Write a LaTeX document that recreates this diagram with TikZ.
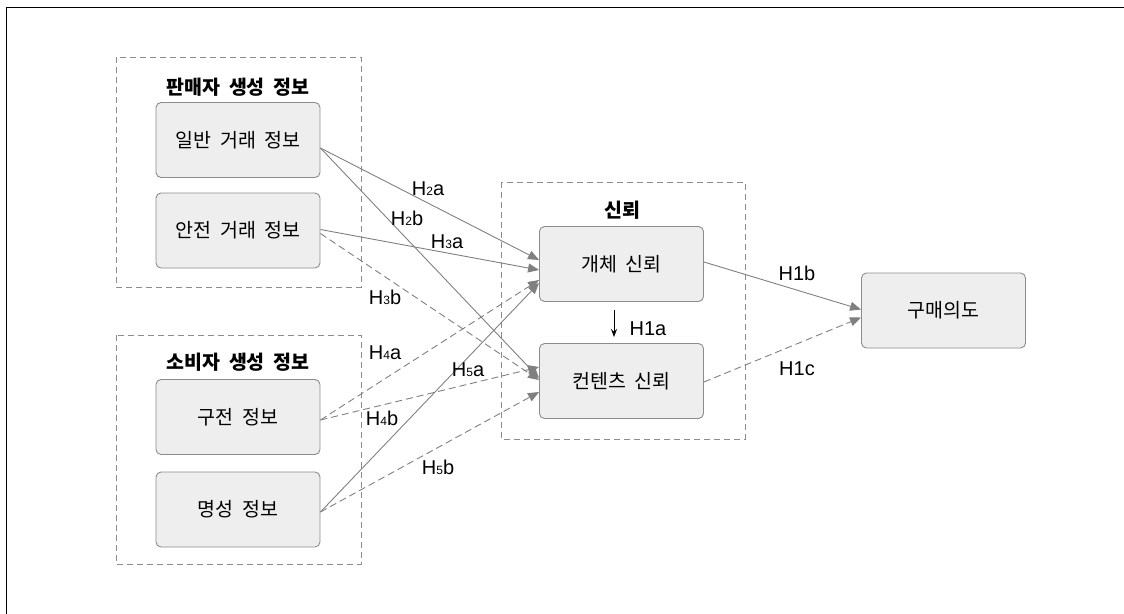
\documentclass[tikz,border=0pt]{standalone}
\usepackage{fontspec}
\setmainfont[WordSpace=2]{Noto Sans CJK KR}
\newfontfamily\latinfont{Liberation Sans}
\usetikzlibrary{calc,arrows.meta}
\definecolor{boxfill}{HTML}{EEEEEE}
\definecolor{boxline}{HTML}{8C8C8C}
\definecolor{arrowgray}{HTML}{808080}
\tikzset{
  itembox/.style={draw=boxline, fill=boxfill, rounded corners=5pt, line width=0.9pt,
    minimum width=164pt, minimum height=75pt, inner sep=0pt, font=\fontsize{19.5}{22}\selectfont},
  groupbox/.style={draw=boxline, dash pattern=on 6pt off 4pt, line width=0.9pt},
  grouptitle/.style={font=\fontsize{19.5}{22}\selectfont\bfseries, inner sep=0pt},
  hlabel/.style={font=\latinfont\fontsize{20}{23}\selectfont, inner sep=0pt},
  link/.style={draw=arrowgray, line width=0.9pt, -{Triangle[length=11pt,width=9pt]}},
  dlink/.style={link, dash pattern=on 7pt off 4pt},
}
\newcommand{\hsub}[2]{H{\fontsize{12}{13}\selectfont #1}#2}
\begin{document}
\begin{tikzpicture}[x=1pt,y=-1pt]
\useasboundingbox (0,0) rectangle (1124,613);
% outer frame
\draw[black, line width=1.6pt] (6.5,640) -- (6.5,7.5) -- (1140,7.5);

% group boxes
\draw[groupbox] (116,57) rectangle (361,287);
\draw[groupbox] (116,335) rectangle (361,564);
\draw[groupbox] (501,182) rectangle (745,439);

\node[grouptitle] (t1) at (238,87) {판매자 생성 정보};
\node[grouptitle] (t2) at (238,362) {소비자 생성 정보};
\node[grouptitle] (t3) at (622,210) {신뢰};

% items
\node[itembox] (g1) at (238,140) {일반 거래 정보};
\node[itembox] (g2) at (238,230.5) {안전 거래 정보};
\node[itembox] (c1) at (238,417) {구전 정보};
\node[itembox] (c2) at (238,509.5) {명성 정보};
\node[itembox] (o) at (621.5,264) {개체 신뢰};
\node[itembox] (ct) at (621.5,381) {컨텐츠 신뢰};
\node[itembox] (p) at (943.5,310.5) {구매의도};

% connectors
\draw[link] ($(g1.east)+(0,8)$) -- ($(o.west)+(0,-4)$);
\draw[link] ($(g1.east)+(0,8)$) -- ($(ct.west)+(0,-3)$);
\draw[link] ($(g2.east)+(0,-1)$) -- ($(o.west)+(0,6)$);
\draw[dlink] ($(g2.east)+(0,3)$) -- ($(ct.west)+(0,-1)$);
\draw[dlink] ($(c1.east)+(0,3)$) -- ($(o.west)+(0,16)$);
\draw[dlink] ($(c1.east)+(0,3)$) -- ($(ct.west)+(0,-14)$);
\draw[link] ($(c2.east)+(0,2.5)$) -- ($(o.west)+(0,19)$);
\draw[dlink] ($(c2.east)+(0,2.5)$) -- ($(ct.west)+(0,11)$);
\draw[link] ($(o.east)+(0,-2)$) -- ($(p.west)+(0,-1)$);
\draw[dlink] ($(ct.east)+(0,1)$) -- ($(p.west)+(0,7)$);
\draw[black, line width=1pt, -{Stealth[length=8pt,width=6pt]}] ($(o.south)+(-7.5,8)$) -- ($(ct.north)+(-7.5,-6)$);

% labels
\node[hlabel] (l2a) at (428,189) {\hsub{2}{a}};
\node[hlabel] (l2b) at (407,218) {\hsub{2}{b}};
\node[hlabel] (l3a) at (447,242) {\hsub{3}{a}};
\node[hlabel] (l3b) at (385,297) {\hsub{3}{b}};
\node[hlabel] (l4a) at (385,353) {\hsub{4}{a}};
\node[hlabel] (l5a) at (468,370) {\hsub{5}{a}};
\node[hlabel] (l4b) at (382,418) {\hsub{4}{b}};
\node[hlabel] (l5b) at (438,467) {\hsub{5}{b}};
\node[hlabel] (l1a) at (648,329) {H1a};
\node[hlabel] (l1b) at (797,273) {H1b};
\node[hlabel] (l1c) at (797,369) {H1c};
\end{tikzpicture}
\end{document}
